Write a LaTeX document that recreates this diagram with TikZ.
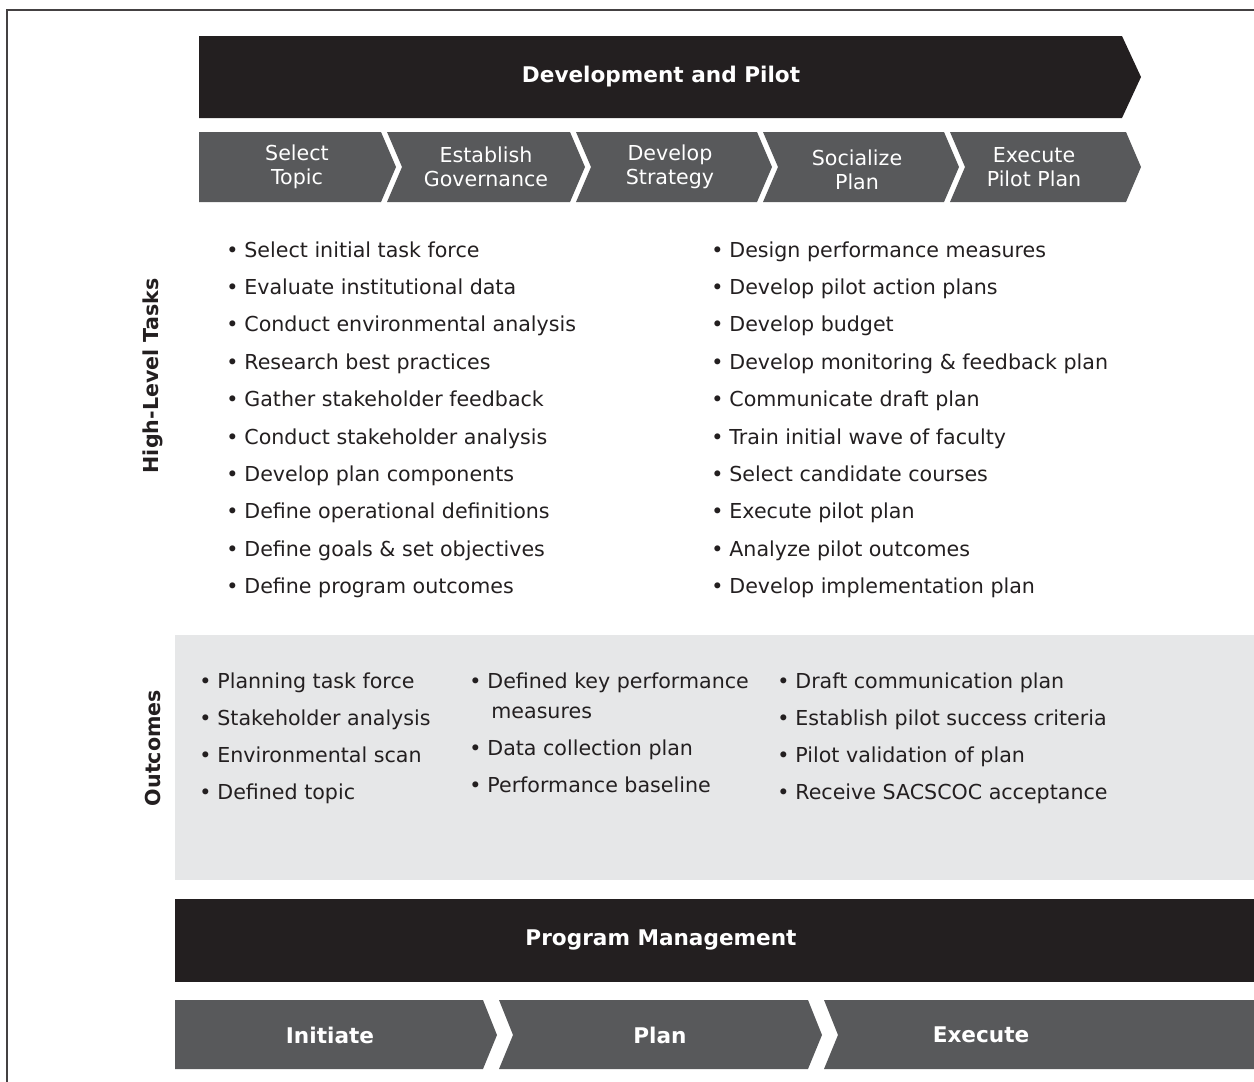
\documentclass[tikz,border=0pt]{standalone}
\usepackage{fontspec}
\setmainfont{DejaVu Sans}
\usetikzlibrary{positioning}

\definecolor{barblack}{HTML}{231F20}
\definecolor{chevgray}{HTML}{58595B}
\definecolor{boxgray}{HTML}{E6E7E8}

\begin{document}
\begin{tikzpicture}[x=0.5pt, y=-0.5pt,
        banner/.style={text=white, font=\fontsize{10.8}{13}\selectfont\bfseries},
        phase/.style={text=white, align=center, inner sep=0pt, font=\fontsize{10.3}{12}\selectfont},
        item/.style={anchor=base west, inner sep=0pt, text=barblack, font=\fontsize{10.3}{12}\selectfont},
        side/.style={rotate=90, text=barblack, font=\fontsize{10.3}{12}\selectfont\bfseries}
    ]
        \useasboundingbox (0,0) rectangle (1254,1082);
        \draw[line width=1pt, barblack!85] (7,1090) -- (7,10) -- (1262,10);

        % development and pilot
        \fill[barblack] (199,36) -- (1122,36) -- (1141,77) -- (1122,118) -- (199,118) -- cycle;
        \node[banner] (dev) at (661,77) {Development and Pilot};

        \foreach \xa/\d/\xb/\xt/\yt/\lbl [count=\i] in {199/0/381/297/167/{Select\\Topic},
                387/15/570/486/167/{Establish\\Governance}, 576/15/757/670/167/{Develop\\Strategy},
                763/15/944/857/170/{Socialize\\Plan}, 950/15/1126/1034/167/{Execute\\Pilot Plan}}
        {
            \fill[chevgray] (\xa,132) -- (\xb,132) -- (\xb+15,167) -- (\xb,202) -- (\xa,202) -- (\xa+\d,167) -- cycle;
            \node[phase] (p\i) at (\xt,\yt) {\lbl};
        }

        % tasks
        \node[side] (tasks) at (153,376) {High-Level Tasks};
        \foreach \txt [count=\i from 0] in {Select initial task force, Evaluate institutional data,
                Conduct environmental analysis, Research best practices, Gather stakeholder feedback,
                Conduct stakeholder analysis, Develop plan components, Define operational definitions,
                Define goals \& set objectives, Define program outcomes}
            \node[item] (ta\i) at (244,257+37.4*\i) {\llap{\textbullet\hspace{3pt}}\txt};
        \foreach \txt [count=\i from 0] in {Design performance measures, Develop pilot action plans,
                Develop budget, Develop monitoring \& feedback plan, Communicate draft plan,
                Train initial wave of faculty, Select candidate courses, Execute pilot plan,
                Analyze pilot outcomes, Develop implementation plan}
            \node[item] (tb\i) at (729,257+37.4*\i) {\llap{\textbullet\hspace{3pt}}\txt};

        % outcomes
        \fill[boxgray] (175,635) rectangle (1262,880);
        \node[side] (outc) at (153,748) {Outcomes};
        \foreach \txt [count=\i from 0] in {Planning task force, Stakeholder analysis,
                Environmental scan, Defined topic}
            \node[item] (oa\i) at (217,688+37.3*\i) {\llap{\textbullet\hspace{3pt}}\txt};
        \node[item] (ob0) at (487,688) {\llap{\textbullet\hspace{3pt}}Defined key performance};
        \node[item] (ob1) at (491,718) {measures};
        \node[item] (ob2) at (487,755) {\llap{\textbullet\hspace{3pt}}Data collection plan};
        \node[item] (ob3) at (487,792) {\llap{\textbullet\hspace{3pt}}Performance baseline};
        \foreach \txt [count=\i from 0] in {Draft communication plan, Establish pilot success criteria,
                Pilot validation of plan, Receive SACSCOC acceptance}
            \node[item] (oc\i) at (795,688+37.3*\i) {\llap{\textbullet\hspace{3pt}}\txt};

        % program management
        \fill[barblack] (175,899) rectangle (1262,982);
        \node[banner] (prog) at (661,940) {Program Management};

        \foreach \xa/\d/\xb/\xt/\lbl [count=\i] in {175/0/483/330/Initiate, 499/14/808/660/Plan,
                824/14/1290/981/Execute}
        {
            \fill[chevgray] (\xa,1000) -- (\xb,1000) -- (\xb+14,1035) -- (\xb,1069) -- (\xa,1069) -- (\xa+\d,1035) -- cycle;
            \node[banner] (s\i) at (\xt,1035) {\lbl};
        }
    \end{tikzpicture}
\end{document}
